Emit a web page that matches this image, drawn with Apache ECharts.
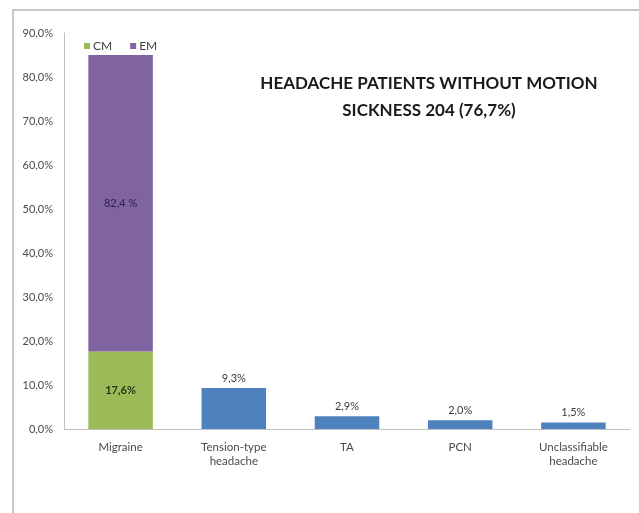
<!DOCTYPE html>
<html><head><meta charset="utf-8">
<script src="https://cdn.jsdelivr.net/npm/echarts@6/dist/echarts.min.js"></script>
<style>html,body{margin:0;padding:0;background:#fff}#c{width:639px;height:513px}</style>
</head><body><div id="c"></div>
<script>
var categories = ['Migraine', 'Tension-type\nheadache', 'TA', 'PCN', 'Unclassifiable\nheadache'];
var cmValues = [17.6, '-', '-', '-', '-'];
var emValues = [67.4, '-', '-', '-', '-'];
var otherValues = ['-', 9.3, 2.9, 2.0, 1.5];
var cmLabels = ['17,6%'];
var emLabels = ['82,4 %'];
var yTicks = [0, 10, 20, 30, 40, 50, 60, 70, 80, 90];
var titleText = 'HEADACHE PATIENTS WITHOUT MOTION\nSICKNESS 204 (76,7%)';

var fontF = 'Lato';
function pct(v){ return v.toFixed(1).replace('.', ',') + '%'; }

var chart = echarts.init(document.getElementById('c'));
chart.setOption({
  animation: false,
  textStyle: { fontFamily: fontF },
  graphic: [{
    type: 'polyline', silent: true,
    shape: { points: [[13, 520], [13, 10], [645, 10]] },
    style: { stroke: '#c8c8c8', lineWidth: 2, fill: null }
  }],
  title: {
    text: titleText, left: 424, top: 65, textAlign: 'center',
    textStyle: { fontFamily: fontF, fontSize: 17, fontWeight: 'bold', color: '#1a1a1a', lineHeight: 27 }
  },
  legend: {
    data: ['CM', 'EM'], left: 79, top: 35, itemWidth: 6, itemHeight: 6, itemGap: 18,
    icon: 'rect',
    textStyle: { fontFamily: fontF, fontSize: 12, color: '#404040', padding: [0, 0, 0, -2] }
  },
  grid: { left: 64, right: 9, top: 33, bottom: 84, containLabel: false },
  xAxis: {
    type: 'category', data: categories,
    axisLine: { lineStyle: { color: '#bfbfbf' } },
    axisTick: { show: false },
    axisLabel: { fontFamily: fontF, fontSize: 11.5, color: '#4a4a4a', margin: 11, lineHeight: 14, interval: 0 }
  },
  yAxis: {
    type: 'value', min: 0, max: 90, interval: 10,
    axisLine: { show: true, lineStyle: { color: '#bfbfbf' } },
    axisTick: { show: false },
    splitLine: { show: false },
    axisLabel: { fontFamily: fontF, fontSize: 11, color: '#4a4a4a', margin: 11,
      formatter: function(v){ return yTicks.indexOf(v) >= 0 ? pct(v) : ''; } }
  },
  series: [
    { name: 'CM', type: 'bar', stack: 't', data: cmValues, barWidth: '57%',
      itemStyle: { color: '#9BBB59' },
      label: { show: true, position: 'inside', fontFamily: fontF, fontSize: 11, fontWeight: 'bold', color: '#2a3512',
        formatter: function(p){ return cmLabels[p.dataIndex] || ''; } } },
    { name: 'EM', type: 'bar', stack: 't', data: emValues, barWidth: '57%',
      itemStyle: { color: '#8064A2' },
      label: { show: true, position: 'inside', fontFamily: fontF, fontSize: 11, color: '#2f2045',
        formatter: function(p){ return emLabels[p.dataIndex] || ''; } } },
    { name: 'Other', type: 'bar', stack: 't', data: otherValues, barWidth: '57%',
      itemStyle: { color: '#4F81BD' },
      label: { show: true, position: 'top', distance: 4, fontFamily: fontF, fontSize: 11, color: '#3a3a3a',
        formatter: function(p){ return pct(p.value); } } }
  ]
});
</script></body></html>
